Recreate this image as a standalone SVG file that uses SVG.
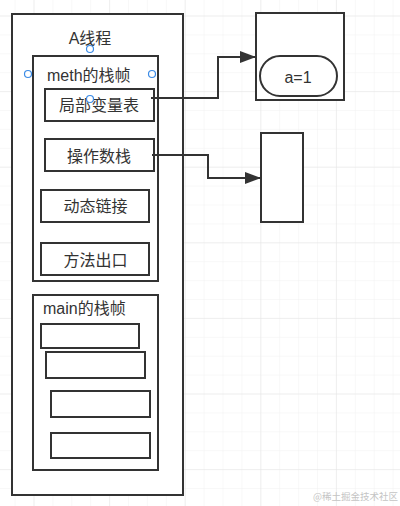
<svg xmlns="http://www.w3.org/2000/svg" width="400" height="506" viewBox="0 0 400 506">
<style>
.box{fill:#fff;stroke:#333;stroke-width:2}
.frame{fill:none;stroke:#333;stroke-width:2}
.t{font-family:"Liberation Sans","Noto Sans CJK SC",sans-serif;font-size:16px;fill:#333;text-anchor:middle}
.tl{font-family:"Liberation Sans","Noto Sans CJK SC",sans-serif;font-size:16px;fill:#333}
.h{fill:#fff;stroke:#3b8be6;stroke-width:1.2}
.c{fill:none;stroke:#333;stroke-width:2}
</style>
<defs>
<pattern id="minor" x="33.5" y="15.5" width="18.9" height="18.9" patternUnits="userSpaceOnUse">
<path d="M0 0H18.9M0 0V18.9" fill="none" stroke="#f1f1f1" stroke-width="1"/>
</pattern>
<pattern id="major" x="33.5" y="15.5" width="75.6" height="75.6" patternUnits="userSpaceOnUse">
<path d="M0 0H75.6M0 0V75.6" fill="none" stroke="#e5e5e5" stroke-width="1"/>
</pattern>
<marker id="arr" viewBox="0 0 16 12" refX="16" refY="6" markerWidth="16" markerHeight="12" markerUnits="userSpaceOnUse" orient="auto">
<path d="M0 0L16 6L0 12Z" fill="#333"/>
</marker>
</defs>
<rect width="400" height="506" fill="#fff"/>
<rect width="400" height="506" fill="url(#minor)"/>
<rect width="400" height="506" fill="url(#major)"/>

<g id="thread">
<rect class="box" x="12" y="14" width="171" height="481"/>
<text class="t" x="90" y="44">A线程</text>
</g>
<g id="meth-frame">
<rect class="box" x="33" y="56" width="125" height="225"/>
<text class="tl" x="47" y="81">meth的栈帧</text>
</g>
<g id="local-vars">
<rect class="box" x="45" y="89" width="109" height="32"/>
<text class="t" x="99" y="111">局部变量表</text>
</g>
<g id="operand-stack">
<rect class="box" x="45" y="139" width="109" height="32"/>
<text class="t" x="99" y="162">操作数栈</text>
</g>
<g id="dynamic-link">
<rect class="box" x="41" y="190" width="108" height="32"/>
<text class="t" x="95.5" y="212">动态链接</text>
</g>
<g id="method-exit">
<rect class="box" x="41" y="243" width="108" height="32"/>
<text class="t" x="95.5" y="266">方法出口</text>
</g>
<g id="main-frame">
<rect class="box" x="33" y="295" width="125" height="175"/>
<text class="tl" x="43" y="314">main的栈帧</text>
</g>
<g id="main-1"><rect class="box" x="41" y="324" width="98" height="24"/></g>
<g id="main-2"><rect class="box" x="46" y="352" width="99" height="26"/></g>
<g id="main-3"><rect class="box" x="51" y="391" width="99" height="26"/></g>
<g id="main-4"><rect class="box" x="51" y="433" width="99" height="25"/></g>
<g id="heap">
<rect class="box" x="256" y="13" width="88" height="87"/>
</g>
<g id="a1">
<rect class="box" x="260" y="56" width="77" height="40" rx="20"/>
<text class="t" x="298" y="83">a=1</text>
</g>
<g id="stack">
<rect class="box" x="261" y="133" width="42" height="89"/>
</g>
<g id="connectors">
<path class="c" d="M151 98H218V57H256" marker-end="url(#arr)"/>
<path class="c" d="M152 155H208V178H261" marker-end="url(#arr)"/>
</g>
<g id="handles">
<circle class="h" cx="90" cy="49" r="3.5"/>
<circle class="h" cx="28" cy="74" r="3.5"/>
<circle class="h" cx="152" cy="74" r="3.5"/>
<circle class="h" cx="90" cy="99" r="3.5"/>
</g>
<text x="398" y="500" font-family="'Noto Sans CJK SC',sans-serif" font-size="9.5" fill="#c4c4c4" text-anchor="end">@稀土掘金技术社区</text>
</svg>
